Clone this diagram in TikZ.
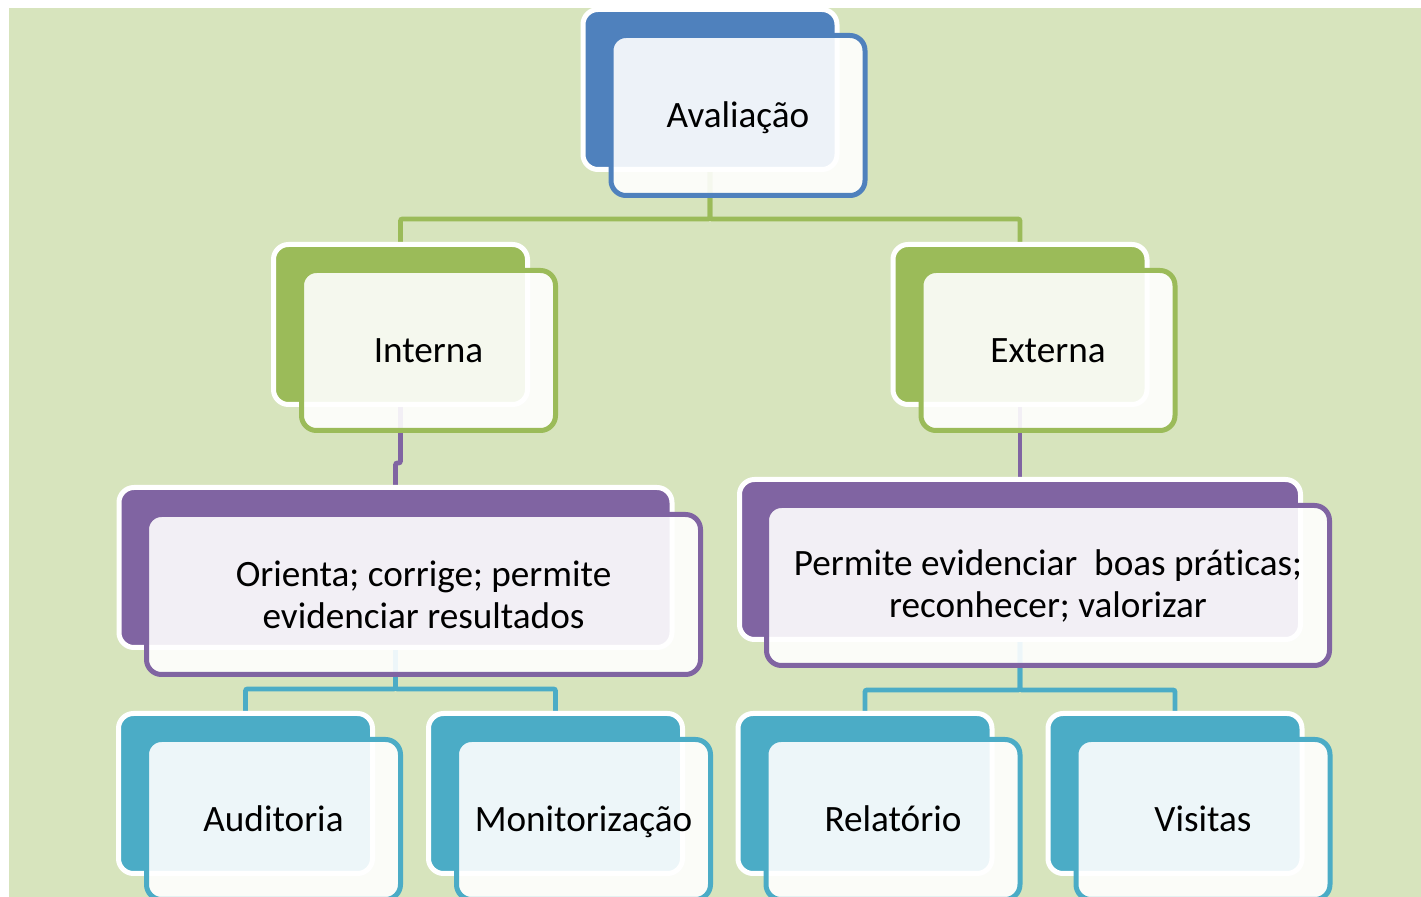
\documentclass[tikz,border=0pt]{standalone}
\usepackage{fontspec}
\setmainfont[Ligatures=NoCommon]{Carlito}
\usepackage{tikz}
\usetikzlibrary{positioning,backgrounds}

\definecolor{bgcol}{HTML}{D7E4BD}
\definecolor{blu}{HTML}{4F81BD}
\definecolor{grn}{HTML}{9BBB59}
\definecolor{prp}{HTML}{8064A2}
\definecolor{aqu}{HTML}{4BACC6}

\tikzset{
    backbox/.style  = {draw=white, line width=2.5pt, rounded corners=7.5pt, fill=#1,
                       minimum width=127pt, minimum height=80pt},
    frontbox/.style = {draw=#1, line width=2.5pt, rounded corners=7.5pt, fill=white,
                       fill opacity=0.9, text opacity=1, align=center,
                       minimum width=127pt, minimum height=80pt,
                       font=\fontsize{18.6}{21}\selectfont},
    oneline/.style  = {text height=12pt, text depth=0pt},
    link/.style     = {draw=#1, line width=2.4pt, rounded corners=1pt}
}

\begin{document}
\begin{tikzpicture}[x=0.5pt, y=-0.5pt, on grid]
                \useasboundingbox (0,0) rectangle (1421,897);
                \begin{scope}[on background layer]
                    \fill[bgcol] (9,8) rectangle (1421,897);
                \end{scope}

                % back boxes
                \node[backbox=blu] (avalb) at (710,89.5) {};
                \node[backbox=grn, below left  = 117.5pt and 154.75pt of avalb] (intb) {};
                \node[backbox=grn, below right = 117.5pt and 155pt of avalb]    (extb) {};
                \node[backbox=prp, minimum width=276.5pt, below left = 121.5pt and 2.5pt of intb] (orib) {};
                \node[backbox=prp, minimum width=280.5pt, below = 117.5pt of extb]                (perb) {};
                \node[backbox=aqu, below left  = 113pt and 75pt of orib]   (audb) {};
                \node[backbox=aqu, below right = 113pt and 80pt of orib]   (monb) {};
                \node[backbox=aqu, below left  = 117pt and 77.5pt of perb] (relb) {};
                \node[backbox=aqu, below right = 117pt and 77.5pt of perb] (visb) {};

                % connectors, under the boxes
                \begin{scope}[on background layer]
                    \draw[link=grn] (avalb.south) -- ++(0,47) -| (intb.north);
                    \draw[link=grn] (avalb.south) -- ++(0,47) -| (extb.north);
                    \draw[link=prp] (intb.south) -- ++(0,56) -| (orib.north);
                    \draw[link=prp] (extb.south) -- (perb.north);
                    \draw[link=aqu] (orib.south) -- ++(0,39) -| (audb.north);
                    \draw[link=aqu] (orib.south) -- ++(0,39) -| (monb.north);
                    \draw[link=aqu] (perb.south) -- ++(0,48) -| (relb.north);
                    \draw[link=aqu] (perb.south) -- ++(0,48) -| (visb.north);
                \end{scope}

                % front boxes
                \node[frontbox=blu, oneline, below right = 13pt and 14pt of avalb] (aval) {Avaliação};
                \node[frontbox=grn, oneline, below right = 13pt and 14pt of intb]  (int)  {Interna};
                \node[frontbox=grn, oneline, below right = 13pt and 14pt of extb]  (ext)  {Externa};
                \node[frontbox=prp, minimum width=277pt, below right = 13.5pt and 14pt of orib]
                    (ori) {Orienta; corrige; permite\\evidenciar resultados};
                \node[frontbox=prp, minimum width=281.5pt, below right = 13pt and 14pt of perb]
                    (per) {Permite evidenciar~ boas práticas;\\reconhecer; valorizar};
                \node[frontbox=aqu, oneline, below right = 13pt and 14pt of audb] (aud) {Auditoria};
                \node[frontbox=aqu, oneline, below right = 13pt and 14pt of monb] (mon) {Monitorização};
                \node[frontbox=aqu, oneline, below right = 13pt and 14pt of relb] (rel) {Relatório};
                \node[frontbox=aqu, oneline, below right = 13pt and 14pt of visb] (vis) {Visitas};
            \end{tikzpicture}
\end{document}
